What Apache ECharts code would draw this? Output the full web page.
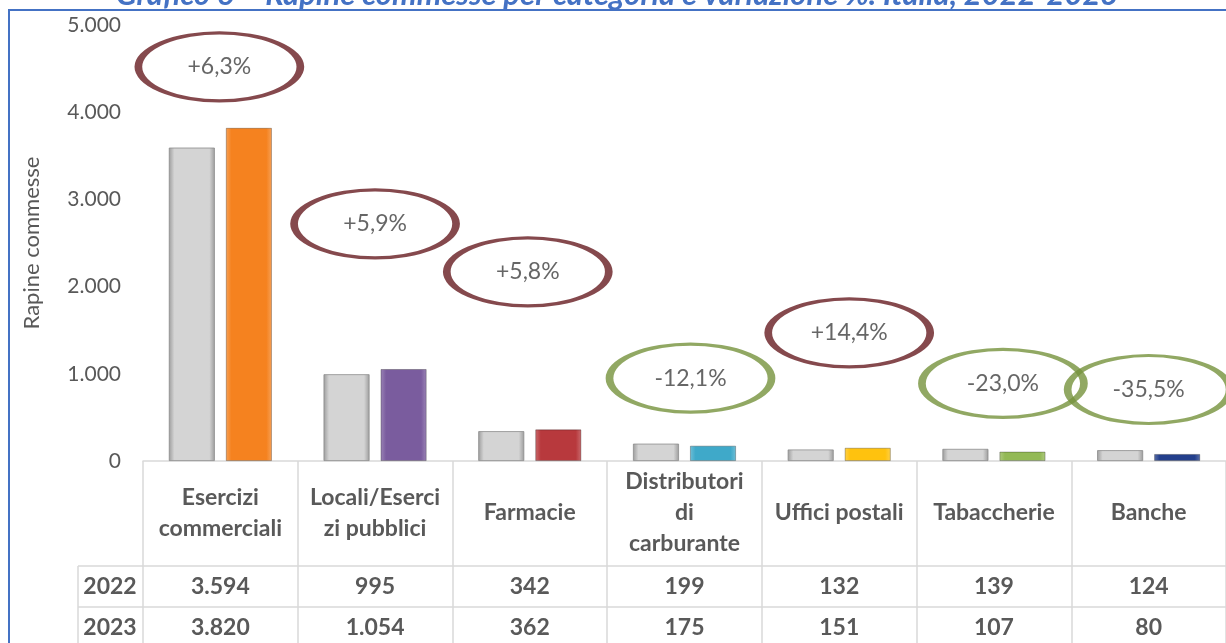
<!DOCTYPE html>
<html lang="it">
<head>
    <meta charset="UTF-8"/>
    <script type="text/javascript" src="https://cdn.jsdelivr.net/npm/echarts@6/dist/echarts.min.js"></script>
    <title>Rapine commesse</title>
    <style>
        html, body { margin: 0; padding: 0; background: #fff; }
        #main { width: 1226px; height: 643px; }
    </style>
</head>
<body>
<div id="main"></div>
<script type="text/javascript">
    // categorie e valori
    var categories = ['Esercizi\ncommerciali', 'Locali/Eserci\nzi pubblici', 'Farmacie',
        'Distributori\ndi\ncarburante', 'Uffici postali', 'Tabaccherie', 'Banche']
    var years = ['2022', '2023']
    var values2022 = [3594, 995, 342, 199, 132, 139, 124]
    var values2023 = [3820, 1054, 362, 175, 151, 107, 80]
    var colors2023 = ['#f5821f', '#7a5c9e', '#b8393d', '#3fa9c9', '#ffc20e', '#93b956', '#233f8c']
    var yTicks = [0, 1000, 2000, 3000, 4000, 5000]
    // altezza (in rapine) a cui stanno gli ovali delle variazioni
    var bubbleLevels = [4520, 2720, 2170, 950, 1470, 890, 820]
    // piccolo spostamento orizzontale degli ovali (px)
    var bubbleShift = [-1, 0, -2, 6, 10, 9, 0]

    function fmt(v) {
        return String(v).replace(/\B(?=(\d{3})+(?!\d))/g, '.')
    }

    function pct(a, b) {
        var p = (b - a) / a * 100
        return (p >= 0 ? '+' : '') + p.toFixed(1).replace('.', ',') + '%'
    }

    function bevel(c, dark) {
        return {
            type: 'linear', x: 0, y: 0, x2: 1, y2: 0,
            colorStops: [
                {offset: 0, color: dark},
                {offset: 0.12, color: c},
                {offset: 0.88, color: c},
                {offset: 1, color: dark}
            ]
        }
    }

    var grey = bevel('#d4d4d4', '#9c9c9c')
    var lineGrey = '#d9d9d9'
    var textGrey = '#595959'
    var font = 'Lato, "Noto Sans", sans-serif'
    var cellText = {color: textGrey, fontSize: 23, fontWeight: 'bold', fontFamily: font}

    var bars2023 = values2023.map(function (v, i) {
        return {value: v, itemStyle: {color: bevel(colors2023[i], echarts.color.lift(colors2023[i], 0.25))}}
    })

    var bubbles = bubbleLevels.map(function (lv, i) {
        var up = values2023[i] >= values2022[i]
        return {
            value: [i, lv],
            symbolOffset: [bubbleShift[i], 0],
            label: {formatter: pct(values2022[i], values2023[i])},
            itemStyle: {borderColor: up ? '#661c21' : '#76923c'}
        }
    })

    var myChart = echarts.init(document.getElementById('main'))
    var option = {
        backgroundColor: '#fff',
        animation: false,
        title: {
            text: 'Grafico 6 \u2013 Rapine commesse per categoria e variazione %. Italia, 2022-2023',
            left: 612, top: -26, textAlign: 'center',
            textStyle: {color: '#4472c4', fontSize: 31, fontWeight: 'bold', fontStyle: 'italic', fontFamily: font}
        },
        graphic: [
            {type: 'rect', shape: {x: 9, y: 10, width: 1240, height: 700},
                style: {fill: null, stroke: '#4472c4', lineWidth: 2}, silent: true},
            {type: 'line', shape: {x1: 78, y1: 566, x2: 143, y2: 566}, style: {stroke: lineGrey, lineWidth: 1.5}},
            {type: 'line', shape: {x1: 78, y1: 607, x2: 143, y2: 607}, style: {stroke: lineGrey, lineWidth: 1.5}},
            {type: 'line', shape: {x1: 78, y1: 566, x2: 78, y2: 643}, style: {stroke: lineGrey, lineWidth: 1.5}},
            {type: 'text', x: 110, y: 587, style: {text: years[0], fill: textGrey, font: 'bold 23px ' + font,
                    align: 'center', verticalAlign: 'middle'}},
            {type: 'text', x: 110, y: 628, style: {text: years[1], fill: textGrey, font: 'bold 23px ' + font,
                    align: 'center', verticalAlign: 'middle'}}
        ],
        grid: {left: 143, right: 0, top: 25, bottom: 182, containLabel: false, outerBoundsMode: 'none'},
        xAxis: [{
            type: 'category', data: categories, position: 'bottom',
            axisLine: {show: true, lineStyle: {color: lineGrey, width: 1.5}},
            axisTick: {show: true, length: 185, lineStyle: {color: lineGrey, width: 1.5}},
            axisLabel: Object.assign({margin: 52, verticalAlign: 'middle', lineHeight: 31, interval: 0}, cellText)
        }, {
            type: 'category', data: values2022.map(fmt), position: 'bottom', offset: 105,
            axisLine: {show: true, lineStyle: {color: lineGrey, width: 1.5}},
            axisTick: {show: false},
            axisLabel: Object.assign({margin: 21, verticalAlign: 'middle', interval: 0}, cellText)
        }, {
            type: 'category', data: values2023.map(fmt), position: 'bottom', offset: 146,
            axisLine: {show: true, lineStyle: {color: lineGrey, width: 1.5}},
            axisTick: {show: false},
            axisLabel: Object.assign({margin: 21, verticalAlign: 'middle', interval: 0}, cellText)
        }],
        yAxis: {
            type: 'value', min: yTicks[0], max: yTicks[yTicks.length - 1], interval: 1000,
            name: 'Rapine commesse', nameLocation: 'middle', nameGap: 100,
            nameTextStyle: {color: textGrey, fontSize: 22, fontFamily: font},
            axisLine: {show: false}, axisTick: {show: false}, splitLine: {show: false},
            axisLabel: {margin: 22, color: textGrey, fontSize: 21, fontFamily: font, formatter: fmt}
        },
        series: [{
            name: years[0], type: 'bar', data: values2022, barWidth: 46, barGap: '24%',
            itemStyle: {color: grey, borderColor: '#8c8c8c', borderWidth: 0.8}
        }, {
            name: years[1], type: 'bar', data: bars2023, barWidth: 46,
            itemStyle: {borderColor: 'rgba(0,0,0,0.35)', borderWidth: 0.8}
        }, {
            type: 'scatter', data: bubbles, symbol: 'circle', symbolSize: [162, 68], z: 5,
            itemStyle: {color: 'rgba(255,255,255,0)', borderWidth: 5},
            label: {show: true, position: 'inside', color: '#404040', fontSize: 23, fontFamily: font}
        }]
    }
    myChart.setOption(option)
</script>
</body>
</html>
